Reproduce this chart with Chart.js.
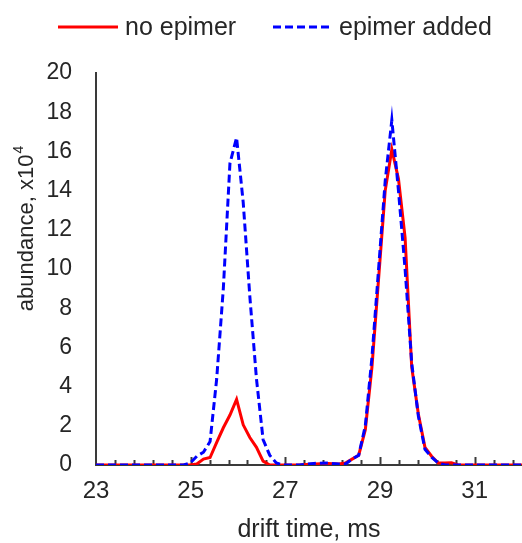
<!DOCTYPE html>
<html>
<head>
<meta charset="utf-8">
<script src="https://cdn.jsdelivr.net/npm/chart.js@4"></script>
<style>
  html, body { margin: 0; padding: 0; background: #fff; }
  #wrap { width: 522px; height: 543px; }
</style>
</head>
<body>
<div id="wrap"><canvas id="driftChart"></canvas></div>
<script>
// drift time (ms) and abundance (x10^4)
const driftTime = [23.0, 24.0, 24.85, 24.99, 25.13, 25.27, 25.41, 25.55, 25.69, 25.83, 25.97, 26.11, 26.25, 26.39, 26.53, 26.67, 26.81, 26.95,
  27.3, 27.6, 27.9, 28.13, 28.27, 28.41, 28.55, 28.69, 28.83, 28.97, 29.11, 29.25, 29.39, 29.53, 29.67, 29.81, 29.95,
  30.09, 30.23, 30.37, 30.51, 30.65, 31.0, 31.5, 32.0];
const noEpimer = [0, 0, 0, 0, 0.05, 0.3, 0.38, 1.15, 1.9, 2.55, 3.35, 2.05, 1.4, 0.9, 0.2, 0, 0, 0,
  0, 0.05, 0.08, 0.05, 0.1, 0.3, 0.5, 1.8, 5.0, 9.5, 14.0, 16.1, 14.6, 11.6, 5.0, 2.6, 0.9,
  0.45, 0.1, 0.1, 0.12, 0, 0, 0, 0];
const epimerAdded = [0, 0, 0, 0.1, 0.45, 0.65, 1.2, 4.4, 9.0, 15.4, 16.7, 13.4, 8.6, 4.4, 1.3, 0.5, 0.1, 0,
  0, 0.08, 0.1, 0.05, 0.05, 0.3, 0.5, 2.0, 5.5, 10.0, 14.5, 17.6, 14.0, 10.0, 5.2, 2.5, 0.8,
  0.4, 0.1, 0, 0, 0, 0, 0, 0];
const xTickLabels = [23, 25, 27, 29, 31];
const seriesNames = ['no epimer', 'epimer added'];

const FONT = '"Liberation Sans", Arial, sans-serif';
const TEXT = '#262626';
const AXIS = '#3a3a3a';

function pts(vals) {
    return driftTime.map((t, i) => ({ x: t, y: vals[i] }));
}

// small tick marks pointing up into the plot from the x axis
const innerTicks = {
    id: 'innerTicks',
    beforeDatasetsDraw(chart) {
        const { ctx, scales: { x }, chartArea } = chart;
        ctx.save();
        ctx.strokeStyle = AXIS;
        ctx.lineWidth = 2;
        for (let i = 1; i <= 22; i++) {
            const v = 23 + i * 0.4;
            const px = Math.round(x.getPixelForValue(v)) + 0.5;
            const major = i % 5 === 0;
            ctx.beginPath();
            ctx.moveTo(px, chartArea.bottom);
            ctx.lineTo(px, chartArea.bottom - (major ? 8 : 5));
            ctx.stroke();
        }
        ctx.restore();
    }
};

// legend and y title drawn by hand
const extras = {
    id: 'extras',
    afterDraw(chart) {
        const ctx = chart.ctx;
        const ds = chart.data.datasets;
        ctx.save();
        ctx.font = '25px ' + FONT;
        ctx.fillStyle = TEXT;
        ctx.textBaseline = 'middle';
        ctx.textAlign = 'left';
        const items = [[58, 118, 125], [273, 333, 339]];
        ds.forEach((d, i) => {
            const [x0, x1, tx] = items[i];
            ctx.strokeStyle = d.borderColor;
            ctx.lineWidth = d.borderWidth;
            ctx.setLineDash(d.borderDash || []);
            ctx.beginPath();
            ctx.moveTo(x0, 27);
            ctx.lineTo(x1, 27);
            ctx.stroke();
            ctx.setLineDash([]);
            ctx.fillText(d.label, tx, 28);
        });

        // y axis title with superscript
        ctx.translate(27, 229);
        ctx.rotate(-Math.PI / 2);
        const main = 'abundance, x10';
        ctx.font = '22px ' + FONT;
        const w1 = ctx.measureText(main).width;
        ctx.font = '14px ' + FONT;
        const w2 = ctx.measureText('4').width;
        const start = -(w1 + w2) / 2;
        ctx.font = '22px ' + FONT;
        ctx.fillText(main, start, 0);
        ctx.font = '14px ' + FONT;
        ctx.fillText('4', start + w1 + 1, -8);
        ctx.restore();
    }
};

new Chart(document.getElementById('driftChart'), {
    type: 'line',
    data: {
        datasets: [
            {
                label: seriesNames[0],
                data: pts(noEpimer),
                borderColor: '#ff0000',
                borderWidth: 3,
                order: 2
            },
            {
                label: seriesNames[1],
                data: pts(epimerAdded),
                borderColor: '#0000ff',
                borderWidth: 3,
                borderDash: [8, 4],
                order: 1
            }
        ]
    },
    options: {
        responsive: true,
        maintainAspectRatio: false,
        animation: false,
        layout: { padding: { top: 73, left: 0, right: 0, bottom: 0 } },
        elements: {
            point: { radius: 0 },
            line: { tension: 0, fill: false }
        },
        plugins: {
            legend: { display: false },
            tooltip: { enabled: false }
        },
        scales: {
            x: {
                type: 'linear',
                min: 23,
                max: 32,
                afterBuildTicks(scale) {
                    scale.ticks = xTickLabels.map(v => ({ value: v }));
                },
                afterFit(scale) { scale.height = 78; },
                grid: { display: false, drawTicks: false },
                border: { display: true, color: AXIS, width: 2 },
                ticks: {
                    color: TEXT,
                    font: { family: FONT, size: 24 },
                    padding: 12,
                    maxRotation: 0,
                    autoSkip: false
                },
                title: {
                    display: true,
                    text: 'drift time, ms',
                    color: TEXT,
                    font: { family: FONT, size: 25 },
                    padding: { top: 0, bottom: -2 }
                }
            },
            y: {
                min: 0,
                max: 20,
                afterFit(scale) { scale.width = 96; },
                grid: { display: false, drawTicks: false },
                border: { display: true, color: AXIS, width: 2 },
                ticks: {
                    stepSize: 2,
                    color: TEXT,
                    font: { family: FONT, size: 23 },
                    padding: 24
                }
            }
        }
    },
    plugins: [innerTicks, extras]
});
</script>
</body>
</html>
